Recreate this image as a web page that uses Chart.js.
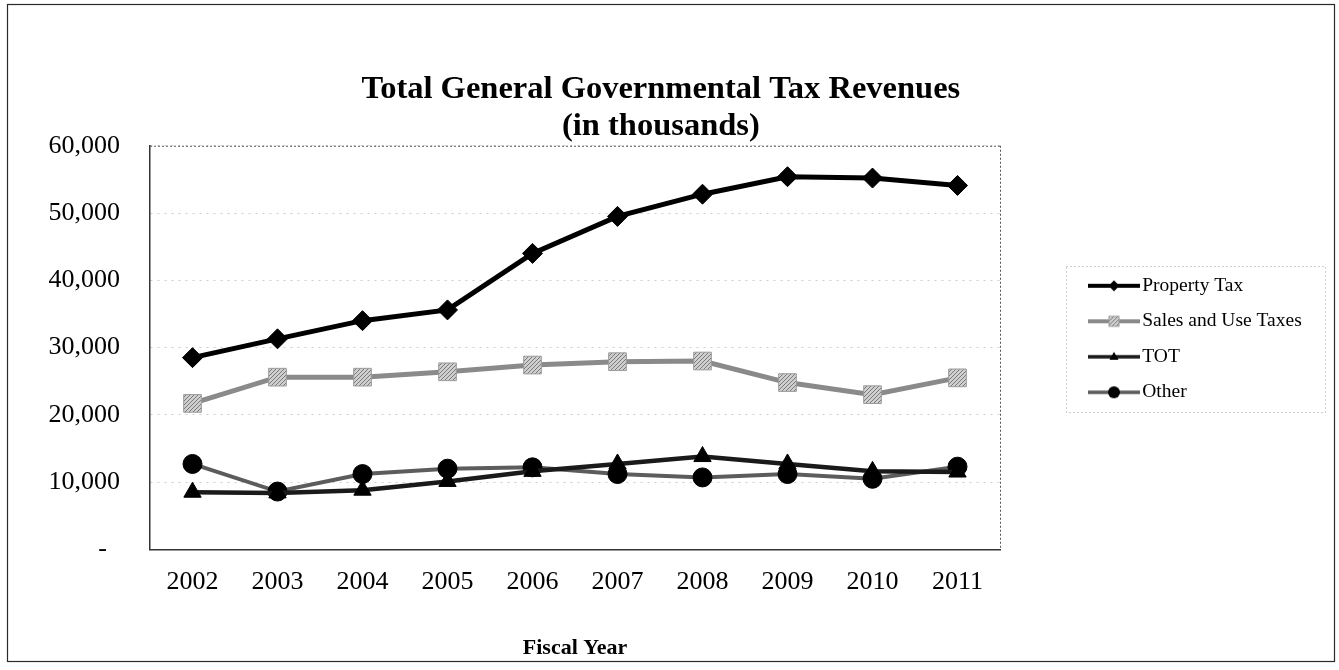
<!DOCTYPE html>
<html>
<head>
<meta charset="utf-8">
<script src="https://cdn.jsdelivr.net/npm/chart.js@4"></script>
<style>
  html, body { margin: 0; padding: 0; background: #fff; }
  #wrap { position: relative; width: 1339px; height: 670px; }
</style>
</head>
<body>
<div id="wrap"><canvas id="c" width="1339" height="670"></canvas></div>
<script>
// Fiscal years and revenue series (in thousands of dollars)
const years = ['2002', '2003', '2004', '2005', '2006', '2007', '2008', '2009', '2010', '2011'];
const propertyTax   = [28500, 31300, 34000, 35600, 44000, 49500, 52800, 55400, 55200, 54100];
const salesUseTaxes = [21700, 25600, 25600, 26400, 27400, 27900, 28000, 24800, 23000, 25500];
const tot           = [8500, 8400, 8800, 10100, 11600, 12700, 13800, 12700, 11600, 11500];
const other         = [12700, 8600, 11200, 12000, 12200, 11200, 10700, 11200, 10500, 12300];
const yTicks        = [0, 10000, 20000, 30000, 40000, 50000, 60000];

const FONT = '"Liberation Serif", "Times New Roman", Times, serif';
const canvas = document.getElementById('c');
const ctx = canvas.getContext('2d');

// checkered grey fill used for the sales-tax square markers
function makeHatch(light, dark) {
  const p = document.createElement('canvas');
  p.width = 4; p.height = 4;
  const g = p.getContext('2d');
  g.fillStyle = light; g.fillRect(0, 0, 4, 4);
  g.fillStyle = dark;
  g.fillRect(0, 0, 1, 1); g.fillRect(2, 2, 1, 1);
  g.fillRect(1, 3, 1, 1); g.fillRect(3, 1, 1, 1);
  return ctx.createPattern(p, 'repeat');
}
const hatch = makeHatch('#cfcfcf', '#7a7a7a');

// small legend swatch: a line with the series marker in the middle
function makeSample(lineColor, lineW, marker) {
  const c = document.createElement('canvas');
  c.width = 52; c.height = 16;
  const g = c.getContext('2d');
  g.strokeStyle = lineColor; g.lineWidth = lineW;
  g.beginPath(); g.moveTo(0, 8); g.lineTo(52, 8); g.stroke();
  marker(g, 26, 8);
  return c;
}
const samples = [
  makeSample('#000', 4, (g, x, y) => {
    g.fillStyle = '#000'; g.beginPath();
    g.moveTo(x, y - 5.5); g.lineTo(x + 5.5, y); g.lineTo(x, y + 5.5); g.lineTo(x - 5.5, y); g.closePath(); g.fill();
  }),
  makeSample('#8a8a8a', 4, (g, x, y) => {
    g.fillStyle = hatch; g.fillRect(x - 5, y - 5, 10, 10);
    g.strokeStyle = '#999'; g.lineWidth = 1; g.strokeRect(x - 5, y - 5, 10, 10);
  }),
  makeSample('#1a1a1a', 3.5, (g, x, y) => {
    g.fillStyle = '#000'; g.beginPath();
    g.moveTo(x, y - 5); g.lineTo(x + 4.5, y + 3); g.lineTo(x - 4.5, y + 3); g.closePath(); g.fill();
  }),
  makeSample('#5a5a5a', 3.5, (g, x, y) => {
    g.fillStyle = '#000'; g.beginPath(); g.arc(x, y, 6, 0, Math.PI * 2); g.fill();
  })
];

// legend geometry: the legend sits to the right of a blank spacer axis
const LEG_FONT = 19.5;
const LEG_PAD = 16;
const BOX_W = 37;
const LEGEND_LEFT = 1079.5;
const PLOT_RIGHT = 1000;
const mctx = document.createElement('canvas').getContext('2d');
mctx.font = LEG_FONT + 'px ' + FONT;
const labelNames = ['Property Tax', 'Sales and Use Taxes', 'TOT', 'Other'];
const maxText = Math.max(...labelNames.map(t => mctx.measureText(t).width));
const legendWidth = LEG_PAD + BOX_W + LEG_FONT / 2 + maxText + 10;
const padRight = Math.max(0, 1339 - LEGEND_LEFT - legendWidth);

// white page with a thin outer frame
const framePlugin = {
  id: 'frame',
  beforeDraw(chart) {
    const c = chart.ctx;
    c.save();
    c.fillStyle = '#fff';
    c.fillRect(0, 0, chart.width, chart.height);
    c.restore();
  },
  afterDraw(chart) {
    const c = chart.ctx;
    c.save();
    c.strokeStyle = '#2a2a2a';
    c.lineWidth = 1.2;
    c.strokeRect(7.5, 4.5, 1327, 657);
    c.restore();
  }
};

// dotted top and right edges of the plot area, dotted box round the legend
const boxesPlugin = {
  id: 'boxes',
  beforeDatasetsDraw(chart) {
    const {ctx: c, chartArea: a} = chart;
    c.save();
    c.strokeStyle = '#555';
    c.lineWidth = 1;
    c.setLineDash([2, 2]);
    c.beginPath();
    c.moveTo(a.left, a.top + 0.5); c.lineTo(a.right, a.top + 0.5);
    c.moveTo(a.right + 0.5, a.top); c.lineTo(a.right + 0.5, a.bottom);
    c.stroke();
    c.restore();
  },
  afterDraw(chart) {
    const lg = chart.legend;
    const hb = lg.legendHitBoxes;
    if (!hb || !hb.length) return;
    const c = chart.ctx;
    const top = hb[0].top - 10;
    const last = hb[hb.length - 1];
    const bottom = last.top + last.height + 10;
    const left = Math.round(lg.left - 14);
    c.save();
    c.strokeStyle = '#9a9a9a';
    c.lineWidth = 1;
    c.setLineDash([1, 3]);
    c.strokeRect(left + 0.5, Math.round(top) + 0.5, 1325 - left, Math.round(bottom - top));
    c.restore();
  }
};

new Chart(ctx, {
  type: 'line',
  data: {
    labels: years,
    datasets: [
      {
        label: labelNames[0], data: propertyTax,
        borderColor: '#000', borderWidth: 5, tension: 0,
        pointStyle: 'rectRot', pointRadius: 10,
        pointBackgroundColor: '#000', pointBorderColor: '#000', pointBorderWidth: 1
      },
      {
        label: labelNames[1], data: salesUseTaxes,
        borderColor: '#8a8a8a', borderWidth: 5, tension: 0,
        pointStyle: 'rect', pointRadius: 12.5,
        pointBackgroundColor: hatch, pointBorderColor: '#9c9c9c', pointBorderWidth: 1
      },
      {
        label: labelNames[2], data: tot,
        borderColor: '#1a1a1a', borderWidth: 4.5, tension: 0,
        pointStyle: 'triangle', pointRadius: 10,
        pointBackgroundColor: '#000', pointBorderColor: '#000', pointBorderWidth: 1
      },
      {
        label: labelNames[3], data: other,
        borderColor: '#5c5c5c', borderWidth: 4, tension: 0,
        pointStyle: 'circle', pointRadius: 9.5,
        pointBackgroundColor: '#000', pointBorderColor: '#000', pointBorderWidth: 1
      }
    ]
  },
  options: {
    responsive: false,
    animation: false,
    devicePixelRatio: 1,
    layout: { padding: { left: 10, right: padRight, top: 0, bottom: 8 } },
    plugins: {
      title: {
        display: true,
        text: ['Total General Governmental Tax Revenues', '(in thousands)'],
        color: '#000',
        font: { family: FONT, size: 32.5, weight: 'bold', lineHeight: 1.15 },
        padding: { top: 71, bottom: 0 }
      },
      legend: {
        position: 'right',
        align: 'center',
        maxWidth: 400,
        title: { display: true, text: ' ', padding: 0, font: { size: 13.4, lineHeight: 1.2 } },
        labels: {
          usePointStyle: true,
          pointStyleWidth: BOX_W,
          boxHeight: LEG_FONT,
          padding: LEG_PAD,
          color: '#000',
          font: { family: FONT, size: LEG_FONT },
          generateLabels(chart) {
            return chart.data.datasets.map((ds, i) => ({
              text: ds.label,
              pointStyle: samples[i],
              fillStyle: '#000',
              strokeStyle: '#000',
              fontColor: '#000',
              lineWidth: 0,
              hidden: false,
              datasetIndex: i
            }));
          }
        }
      },
      tooltip: { enabled: false }
    },
    scales: {
      x: {
        offset: true,
        grid: { display: false, drawTicks: false },
        border: { display: true, color: '#333', width: 1.5 },
        ticks: { color: '#000', font: { family: FONT, size: 26 }, padding: 17, maxRotation: 0 },
        title: {
          display: true, text: 'Fiscal Year', color: '#000',
          font: { family: FONT, size: 22, weight: 'bold', lineHeight: 1.2 },
          padding: { top: 21, bottom: 0 }
        }
      },
      y: {
        min: 0, max: 60000,
        afterBuildTicks(s) { s.ticks = yTicks.map(v => ({ value: v })); },
        ticks: {
          color: '#000', font: { family: FONT, size: 26 }, padding: 30,
          // accounting style: zero shown as a dash set in from the right
          callback: v => (v === 0 ? '-\u2002' : Number(v).toLocaleString('en-US'))
        },
        grid: { color: '#cdcdcd', lineWidth: 1, drawTicks: false },
        border: { display: true, color: '#333', width: 1.5, dash: [2, 5] },
        afterFit(s) { s.width = 140; }
      },
      yR: {
        position: 'right',
        display: true,
        grid: { display: false, drawTicks: false },
        border: { display: false },
        ticks: { display: false },
        afterFit(s) { s.width = LEGEND_LEFT - PLOT_RIGHT; }
      }
    }
  },
  plugins: [framePlugin, boxesPlugin]
});
</script>
</body>
</html>
